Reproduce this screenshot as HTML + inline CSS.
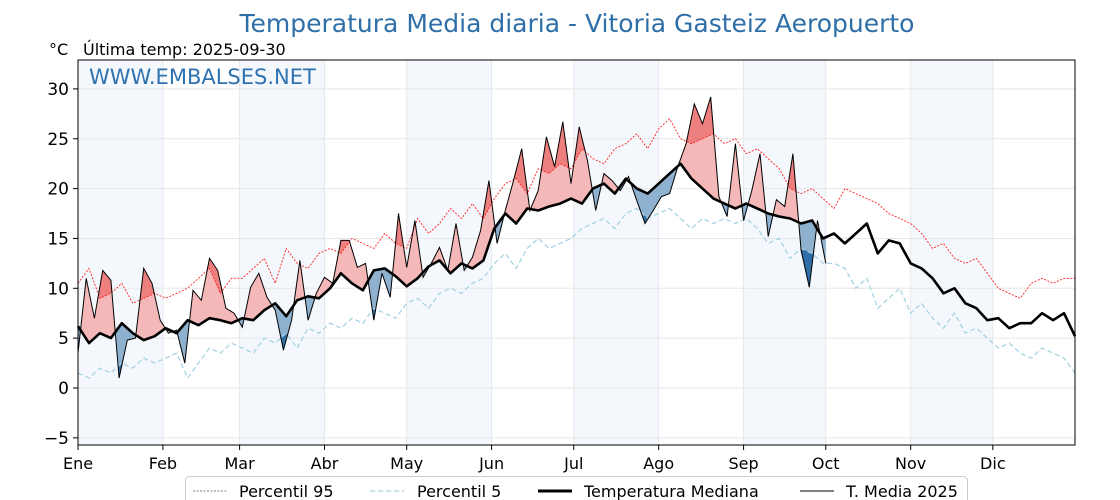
<!DOCTYPE html>
<html><head><meta charset="utf-8"><style>
body{margin:0;background:#fff;width:1120px;height:500px;overflow:hidden;font-family:"Liberation Sans","DejaVu Sans",sans-serif}
svg{display:block}
text{font-family:"DejaVu Sans","Liberation Sans",sans-serif}
</style></head><body>
<svg id="chart" width="1120" height="500" xmlns="http://www.w3.org/2000/svg">
<defs id="defs"></defs>
<text x="577" y="32" text-anchor="middle" font-size="25" fill="#2f6fa8">Temperatura Media diaria - Vitoria Gasteiz Aeropuerto</text>
<text x="49" y="55" font-size="16" fill="#000">°C</text>
<text x="83" y="55" font-size="16" fill="#000">Última temp: 2025-09-30</text>
<g id="plot"></g>
<text x="89" y="84" font-size="21" fill="#2f72b0">WWW.EMBALSES.NET</text>
<g id="legend">
<rect x="185.5" y="476.5" width="782" height="40" rx="4" fill="#fff" stroke="#ccc"/>
<line x1="193" y1="491" x2="227" y2="491" stroke="#555" stroke-width="0.8" stroke-dasharray="2,1.5"/>
<text x="239" y="497" font-size="16">Percentil 95</text>
<line x1="370" y1="491" x2="404" y2="491" stroke="#a8d3e3" stroke-width="1.2" stroke-dasharray="5,3"/>
<text x="417" y="497" font-size="16">Percentil 5</text>
<line x1="538" y1="491" x2="572" y2="491" stroke="#000" stroke-width="3"/>
<text x="584" y="497" font-size="16">Temperatura Mediana</text>
<line x1="800" y1="491" x2="834" y2="491" stroke="#000" stroke-width="1"/>
<text x="846" y="497" font-size="16">T. Media 2025</text>
</g>
</svg>
<script>
const months=["Ene","Feb","Mar","Abr","May","Jun","Jul","Ago","Sep","Oct","Nov","Dic"];
const monthStart=[0,31,59,90,120,151,181,212,243,273,304,334];
const yTicks=[-5,0,5,10,15,20,25,30];
const medianVals=[6.2,4.5,5.5,5.0,6.5,5.5,4.8,5.2, 6.0,5.5,6.8,6.3,7.0,6.8,6.5, 7.0,6.8,7.8,8.5,7.2,8.8,9.2,9.0, 10.0,11.5,10.5,9.8,11.8,12.0,11.2, 10.2,11.0,12.2,12.8,11.5,12.5,12.0,12.8, 16.0,17.5,16.5,18.0,17.8,18.2,18.5,19.0, 18.5,20.0,20.5,19.5,21.0,20.0,19.5, 20.5,21.5,22.5,21.0,20.0,19.0,18.5,18.0, 18.5,18.0,17.5,17.2,17.0,16.5,16.8, 15.0,15.5,14.5,15.5,16.5,13.5,14.8,14.5, 12.5,12.0,11.0,9.5,10.0,8.5,8.0,6.8, 7.0,6.0,6.5,6.5,7.5,6.8,7.5,5.2];
const p95Vals=[10.5,12,9,9.5,10.5,8.5,9,9.5, 9,9.5,10,11,12,9.5,11, 11,12,13,10.5,14,12.5,12,13.5, 14,13.5,15,14.5,14,15.5,14.5, 14,17,15.5,16.5,18,17,18.5,17, 19,20.5,21,19.5,22,21.5,22.5,22, 24,23,22.5,24,24.5,25.5,24, 26,27,25,24.5,25,25.5,24.5,25, 23.5,24,23,22,20,19.5,20, 19,18,20,19.5,19,18.5,17.5,17, 16.5,15.5,14,14.5,13,12.5,13,11.5, 10,9.5,9,10.5,11,10.5,11,11];
const p5Vals=[1.5,1,2,1.5,2.5,2,3,2.5, 3,3.5,1,2.5,4,3.5,4.5, 4,3.5,5,4.5,5.5,4,6,5.5, 6.5,6,7,6.5,8,7.5,7, 8.5,9,8,9.5,10,9.5,10.5,11, 12.5,13.5,12,14,15,14,14.5,15, 16,16.5,17,16,17.5,18,17, 17.5,18,17,16,17,16.5,17,16.5, 17,16,14.5,15,13,14,13.5, 12.5,12.5,12,10,11,8,9,10, 7.5,8.5,7,6,7.5,5.5,6,5, 4,4.5,3.5,3,4,3.5,3,1.5];
const t2025Vals=[3.5,11,7,11.8,10.8,1,4.8,5,12,10.5,6.8,5.5,5.8,2.5,9.8,8.8,13,11.8,8,7.5,6.1,10.1,11.5,9.1,7.8,3.8,6.8,12.8,6.8,9.5,11.1,10.5,14.8,14.8,12.1,12.5,6.8,11.5,9.1,17.5,12.1,16.8,11.1,12.5,14.1,11.8,16.5,11.8,13.1,15.8,20.8,14.5,17.8,20.8,24,17.8,19.8,25.2,22.2,26.7,20.5,26.2,22.8,17.8,21.5,20.8,19.8,21.2,18.8,16.5,17.8,19.2,19.5,22.2,24.5,28.5,26.5,29.2,19.2,17.2,24.5,16.8,19.8,23.5,15.2,18.9,18.2,23.5,13.8,10.1,16.8,12.5];
const climStep=4, actStep=3;
const L=78,R=1075,T=60,B=445;
const X=d=>L+(R-L)*d/364;
const Y=v=>388-(v)*9.97;
const NS="http://www.w3.org/2000/svg";
const plot=document.getElementById('plot'), defs=document.getElementById('defs');
function mk(tag,attrs,parent){const e=document.createElementNS(NS,tag);for(const k in attrs)e.setAttribute(k,attrs[k]);(parent||plot).appendChild(e);return e;}
for(let m=0;m<12;m+=2){const x1=X(monthStart[m]),x2=X(monthStart[m+1]);
 const r=mk('rect',{x:x1,y:T,width:x2-x1,height:B-T,fill:'#f4f8fc'});
 
 }
yTicks.forEach(v=>{const l=mk('line',{x1:L,x2:R,y1:Y(v),y2:Y(v),stroke:'#e6e6e6','stroke-width':1});
 
 
 const t=mk('text',{x:L-9,y:Y(v)+6,'text-anchor':'end','font-size':17});t.textContent=(v<0?'\u2212'+(-v):v);
 
 
 mk('line',{x1:L-5,x2:L,y1:Y(v),y2:Y(v),stroke:'#000'});});
monthStart.forEach((d,i)=>{const l=mk('line',{x1:X(d),x2:X(d),y1:T,y2:B,stroke:'#e3e8ee','stroke-width':1});
 
 
 mk('line',{x1:X(d),x2:X(d),y1:B,y2:B+5,stroke:'#000'});
 const t=mk('text',{x:X(d),y:469,'text-anchor':'middle','font-size':16});t.textContent=months[i];
 
 });
const pts=(arr,step)=>arr.map((v,i)=>X(i*step).toFixed(1)+','+Y(v).toFixed(1));
const medPts=pts(medianVals,climStep), p95Pts=pts(p95Vals,climStep), p5Pts=pts(p5Vals,climStep), actPts=pts(t2025Vals,actStep);
function clip(id,linePts,top){const c=mk('clipPath',{id:id},defs);
 const yEdge=top?T-50:B+50;
 mk('polygon',{points:X(0)+','+yEdge+' '+linePts.join(' ')+' '+X(364)+','+yEdge},c);}
clip('aboveMed',medPts,true);clip('belowMed',medPts,false);
clip('aboveP95',p95Pts,true);clip('belowP5',p5Pts,false);
const lastX=X((t2025Vals.length-1)*actStep);
const actDown=X(0)+','+(B+50)+' '+actPts.join(' ')+' '+lastX+','+(B+50);
const actUp=X(0)+','+(T-50)+' '+actPts.join(' ')+' '+lastX+','+(T-50);
const f1=mk('polygon',{points:actDown,fill:'#f5b8b8','clip-path':'url(#aboveMed)'});


const f2=mk('polygon',{points:actDown,fill:'#ee7f7f','clip-path':'url(#aboveP95)'});


const f3=mk('polygon',{points:actUp,fill:'#8eb1d0','clip-path':'url(#belowMed)'});


const f4=mk('polygon',{points:actUp,fill:'#2f6ea6','clip-path':'url(#belowP5)'});


const lp95=mk('polyline',{points:p95Pts.join(' '),fill:'none',stroke:'#ff2020','stroke-width':0.9,'stroke-dasharray':'2,1.5'});


const lp5=mk('polyline',{points:p5Pts.join(' '),fill:'none',stroke:'#a8d3e3','stroke-width':1.3,'stroke-dasharray':'5,3'});


const lact=mk('polyline',{points:actPts.join(' '),fill:'none',stroke:'#000','stroke-width':1});


const lmed=mk('polyline',{points:medPts.join(' '),fill:'none',stroke:'#000','stroke-width':2.6,'stroke-linejoin':'round'});


const frame=mk('rect',{x:L,y:T,width:R-L,height:B-T,fill:'none',stroke:'#000','stroke-width':1});


</script>
</body></html>
